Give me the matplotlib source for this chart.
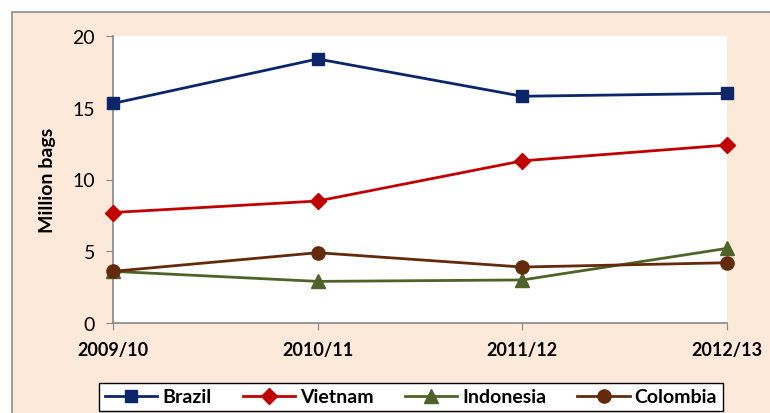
import matplotlib.pyplot as plt
from matplotlib.patches import Rectangle

seasons = ["2009/10", "2010/11", "2011/12", "2012/13"]
brazil = [15.3, 18.4, 15.8, 16.0]
vietnam = [7.7, 8.5, 11.3, 12.4]
indonesia = [3.6, 2.9, 3.0, 5.2]
colombia = [3.6, 4.9, 3.9, 4.2]
y_ticks = [0, 5, 10, 15, 20]

plt.rcParams["font.family"] = ["Lato", "DejaVu Sans"]

fig = plt.figure(figsize=(7.7, 4.14), dpi=100)
fig.patch.set_facecolor("white")

# peach chart area with grey border (behind everything)
fig.patches.append(Rectangle((12 / 770, -0.05), 1.0, 1 - 13 / 414 + 0.05,
                             transform=fig.transFigure, facecolor="#FCE9DA",
                             edgecolor="#8C8C8C", linewidth=1.2, zorder=-10))

ax = fig.add_axes([113 / 770, 1 - 324 / 414, (727 - 113) / 770, (324 - 37) / 414])
ax.set_zorder(1)
ax.set_facecolor("white")

x = range(len(seasons))
series = [
    ("Brazil", brazil, "#0C2669", "s", 9),
    ("Vietnam", vietnam, "#C00000", "D", 8),
    ("Indonesia", indonesia, "#4F6228", "^", 9.5),
    ("Colombia", colombia, "#632B0B", "o", 9.5),
]
for name, vals, color, marker, ms in series:
    ax.plot(x, vals, color=color, marker=marker, markersize=ms, linewidth=2,
            label=name, clip_on=False, zorder=3)

ax.set_xlim(0, 3)
ax.set_ylim(0, 20)
ax.set_yticks(y_ticks)
ax.set_xticks(list(x))
ax.set_xticklabels(seasons, fontweight="bold", fontsize=13)
ax.tick_params(axis="y", labelsize=14, length=5, color="#868686", pad=8)
ax.tick_params(axis="x", length=5, color="#868686", pad=8)
for s in ["top", "right"]:
    ax.spines[s].set_visible(False)
for s in ["left", "bottom"]:
    ax.spines[s].set_color("#868686")
    ax.spines[s].set_linewidth(1.2)
ax.set_ylabel("Million bags", fontweight="bold", fontsize=14, labelpad=12)

leg = fig.legend(loc="center", bbox_to_anchor=(411 / 770, 1 - 398 / 414), ncol=4,
                 frameon=True, fancybox=False, edgecolor="black", framealpha=1,
                 prop={"weight": "bold", "size": 14}, handlelength=2.7,
                 columnspacing=1.6, borderpad=0.3, handletextpad=0.25)
leg.get_frame().set_linewidth(1.0)
leg.set_zorder(5)

fig.savefig("out.png", dpi=100)
